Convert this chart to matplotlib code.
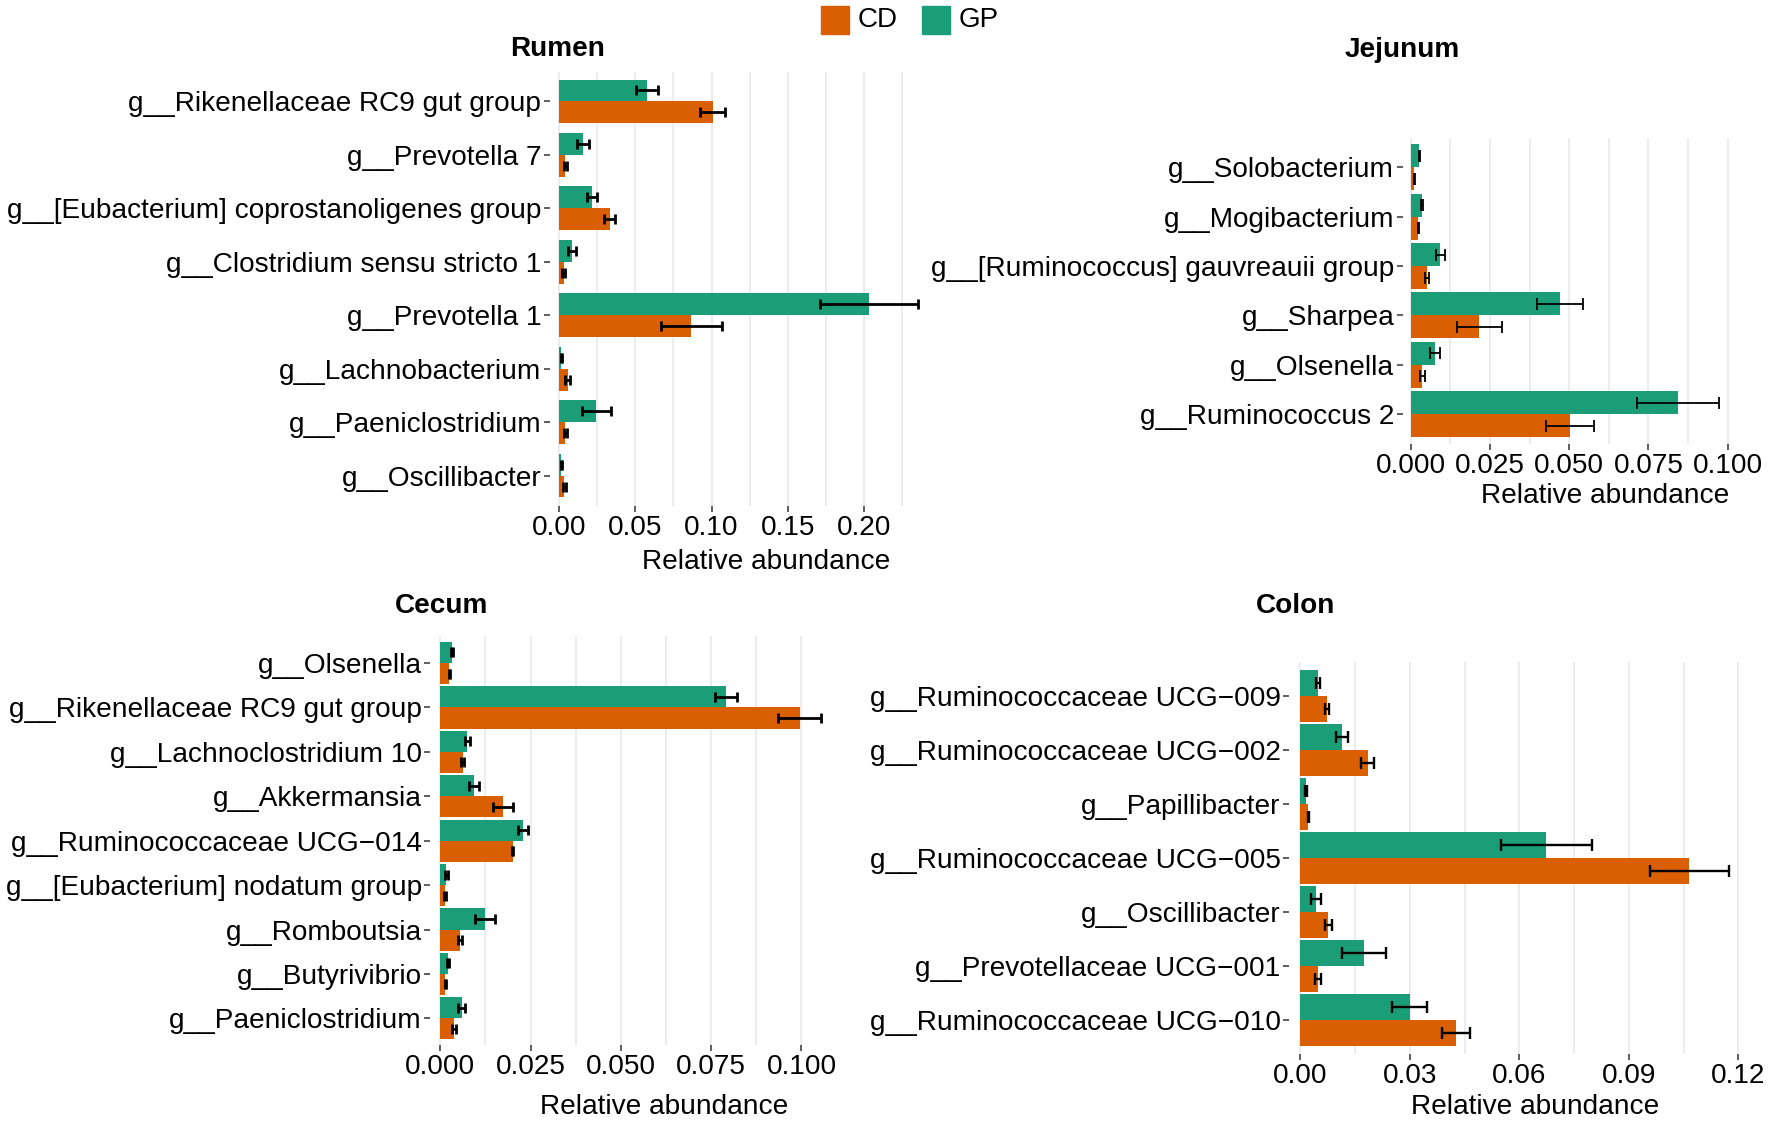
import numpy as np
import matplotlib
matplotlib.use("Agg")
import matplotlib.pyplot as plt
from matplotlib.patches import Rectangle

plt.rcParams['font.family'] = ['Liberation Sans', 'DejaVu Sans']

W, H = 1772, 1126
CD_COLOR = '#D95F02'
GP_COLOR = '#1B9E77'
FS = 20.2

# ---- data (mean relative abundance and standard error) ----
rumen_genus = ["g__Rikenellaceae RC9 gut group", "g__Prevotella 7",
               "g__[Eubacterium] coprostanoligenes group", "g__Clostridium sensu stricto 1",
               "g__Prevotella 1", "g__Lachnobacterium", "g__Paeniclostridium", "g__Oscillibacter"]
rumen_gp = [0.0575, 0.0158, 0.0218, 0.0086, 0.2034, 0.0015, 0.0244, 0.0015]
rumen_gp_se = [0.0073, 0.0038, 0.0034, 0.0025, 0.0320, 0.0004, 0.0094, 0.0004]
rumen_cd = [0.1008, 0.0041, 0.0331, 0.0030, 0.0868, 0.0056, 0.0041, 0.0034]
rumen_cd_se = [0.0081, 0.0010, 0.0036, 0.0008, 0.0201, 0.0015, 0.0010, 0.0009]

jej_genus = ["g__Solobacterium", "g__Mogibacterium", "g__[Ruminococcus] gauvreauii group",
             "g__Sharpea", "g__Olsenella", "g__Ruminococcus 2"]
jej_gp = [0.0028, 0.0035, 0.0094, 0.0472, 0.0077, 0.0843]
jej_gp_se = [0.0002, 0.0003, 0.0013, 0.0072, 0.0017, 0.0128]
jej_cd = [0.0012, 0.0024, 0.0052, 0.0217, 0.0037, 0.0502]
jej_cd_se = [0.0001, 0.0002, 0.0007, 0.0072, 0.0007, 0.0076]

cec_genus = ["g__Olsenella", "g__Rikenellaceae RC9 gut group", "g__Lachnoclostridium 10",
             "g__Akkermansia", "g__Ruminococcaceae UCG\u2212014", "g__[Eubacterium] nodatum group",
             "g__Romboutsia", "g__Butyrivibrio", "g__Paeniclostridium"]
cec_gp = [0.0032, 0.0791, 0.0075, 0.0094, 0.0229, 0.0017, 0.0124, 0.0021, 0.0059]
cec_gp_se = [0.0003, 0.0030, 0.0006, 0.0014, 0.0014, 0.0003, 0.0028, 0.0003, 0.0010]
cec_cd = [0.0025, 0.0995, 0.0062, 0.0173, 0.0200, 0.0013, 0.0055, 0.0014, 0.0038]
cec_cd_se = [0.0002, 0.0059, 0.0005, 0.0028, 0.0002, 0.0002, 0.0006, 0.0002, 0.0005]

col_genus = ["g__Ruminococcaceae UCG\u2212009", "g__Ruminococcaceae UCG\u2212002", "g__Papillibacter",
             "g__Ruminococcaceae UCG\u2212005", "g__Oscillibacter", "g__Prevotellaceae UCG\u2212001",
             "g__Ruminococcaceae UCG\u2212010"]
col_gp = [0.0049, 0.0115, 0.0016, 0.0674, 0.0043, 0.0174, 0.0300]
col_gp_se = [0.0006, 0.0016, 0.0002, 0.0124, 0.0013, 0.0060, 0.0048]
col_cd = [0.0073, 0.0185, 0.0022, 0.1065, 0.0077, 0.0049, 0.0427]
col_cd_se = [0.0006, 0.0018, 0.0002, 0.0108, 0.0010, 0.0009, 0.0038]

fig = plt.figure(figsize=(W / 100, H / 100), dpi=100)


def px_axes(left, top, right, bottom):
    return fig.add_axes([left / W, 1 - bottom / H, (right - left) / W, (bottom - top) / H])


def panel(box, genus, gp, gp_se, cd, cd_se, step, fmt, bar_h, pad, cap, elw):
    ax = px_axes(*box)
    n = len(genus)
    y = np.arange(n)
    gp = np.array(gp); cd = np.array(cd)
    ax.barh(y - bar_h / 2, gp, height=bar_h, color=GP_COLOR, zorder=2)
    ax.barh(y + bar_h / 2, cd, height=bar_h, color=CD_COLOR, zorder=2)
    ax.errorbar(gp, y - bar_h / 2, xerr=gp_se, fmt='none', ecolor='black',
                elinewidth=elw, capsize=cap, capthick=elw, zorder=3)
    ax.errorbar(cd, y + bar_h / 2, xerr=cd_se, fmt='none', ecolor='black',
                elinewidth=elw, capsize=cap, capthick=elw, zorder=3)
    hi = max(np.max(gp + np.array(gp_se)), np.max(cd + np.array(cd_se))) * 1.05
    ax.set_xlim(-0.025 * hi, hi)
    ax.set_ylim(n - 1 + pad, -pad)
    major = np.arange(0, hi, step)
    minor = np.arange(step / 2, hi, step)
    ax.set_xticks(major)
    ax.set_xticklabels([fmt.format(v) for v in major])
    ax.set_xticks(minor, minor=True)
    ax.set_yticks(y)
    ax.set_yticklabels(genus)
    ax.grid(axis='x', which='both', color='#EBEBEB', lw=1.3, zorder=0)
    ax.set_axisbelow(True)
    for s in ax.spines.values():
        s.set_visible(False)
    ax.tick_params(which='major', length=4.5, width=1.1, color='#333333',
                   labelsize=FS, labelcolor='black')
    ax.tick_params(axis='y', pad=1.5)
    ax.tick_params(axis='x', pad=2)
    ax.tick_params(which='minor', length=0)
    return ax


panel((549.6, 71.5, 936, 505.5), rumen_genus, rumen_gp, rumen_gp_se, rumen_cd, rumen_cd_se,
      0.05, '{:.2f}', 0.41, 0.56, 3.8, 2.0)
panel((1402.5, 137.5, 1734, 444), jej_genus, jej_gp, jej_gp_se, jej_cd, jej_cd_se,
      0.025, '{:.3f}', 0.465, 0.6, 4.2, 1.3)
panel((430.3, 636.4, 840, 1045), cec_genus, cec_gp, cec_gp_se, cec_cd, cec_cd_se,
      0.025, '{:.3f}', 0.475, 0.6, 3.8, 2.0)
panel((1289, 662, 1750, 1054), col_genus, col_gp, col_gp_se, col_cd, col_cd_se,
      0.03, '{:.2f}', 0.477, 0.63, 4.5, 1.7)


def ftext(x, y, s, **kw):
    fig.text(x / W, 1 - y / H, s, **kw)


# panel titles
ftext(558, 49, "Rumen", fontsize=FS, fontweight='bold', ha='center', va='center')
ftext(1402, 50, "Jejunum", fontsize=FS, fontweight='bold', ha='center', va='center')
ftext(442, 606, "Cecum", fontsize=FS, fontweight='bold', ha='center', va='center')
ftext(1296, 606, "Colon", fontsize=FS, fontweight='bold', ha='center', va='center')

# axis titles
for x, y in [(766, 562), (1605, 496), (664, 1107), (1535, 1107)]:
    ftext(x, y, "Relative abundance", fontsize=FS, ha='center', va='center')

# legend
for x0, col, lab in [(821, CD_COLOR, "CD"), (922, GP_COLOR, "GP")]:
    fig.add_artist(Rectangle((x0 / W, 1 - 34 / H), 28 / W, 28 / H,
                             transform=fig.transFigure, color=col))
    ftext(x0 + 37, 20, lab, fontsize=20, ha='left', va='center')

fig.savefig("out.png", dpi=100)
